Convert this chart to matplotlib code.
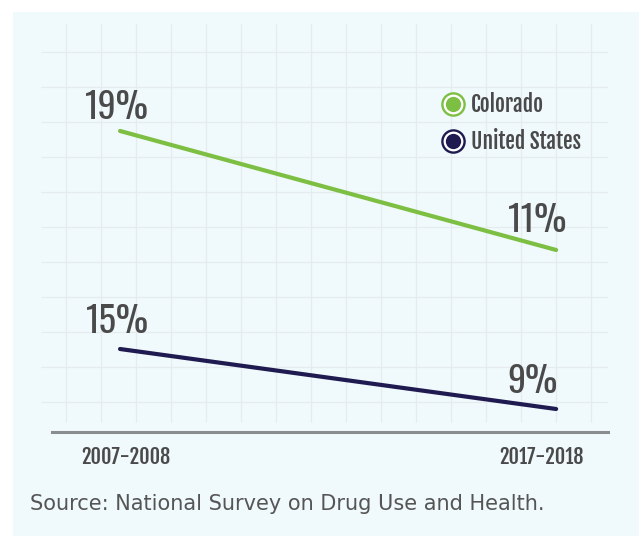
import numpy as np
import matplotlib
matplotlib.use("Agg")
import matplotlib.pyplot as plt
from matplotlib.lines import Line2D
from matplotlib.patches import Rectangle
from matplotlib.legend_handler import HandlerTuple

# data
periods = ["2007-2008", "2017-2018"]
colorado = [19, 11]
united_states = [15, 9]
labels_co = ["19%", "11%"]
labels_us = ["15%", "9%"]

GREEN = "#7dbf42"
NAVY = "#1f1a4f"
TXT = "#4a4a4a"
BG = "#f0f9fc"
GRID = "#e6ebee"

narrow = ["Oswald", "Roboto Condensed", "DejaVu Sans"]
narrow_bold = ["Fjalla One", "Roboto Condensed", "DejaVu Sans"]

W, H = 639, 536
fig = plt.figure(figsize=(W / 100, H / 100), dpi=100, facecolor="white")

# light blue panel
fig.add_artist(Rectangle((13 / W, 0), 626 / W, 524 / H, transform=fig.transFigure,
                         facecolor=BG, edgecolor="none", zorder=0))

# background grid (decoration only)
gax = fig.add_axes([41 / W, 104 / H, 567 / W, 408 / H])
gax.set_xlim(0, 567)
gax.set_ylim(408, 0)
gax.vlines(np.arange(24.7, 560, 35), 0, 398, color=GRID, lw=0.9)
gax.hlines(np.arange(28, 390, 35), 0, 567, color=GRID, lw=0.9)
gax.axis("off")

# Colorado on its own scale, United States on a twin scale (picture is not to one scale)
ax = fig.add_axes([52 / W, 104 / H, 556 / W, 408 / H])
ax.patch.set_visible(False)
x = np.arange(len(periods))
ax.set_xlim(-0.156, 1.119)
ax.set_ylim(-1.235, 26.19)
ax2 = ax.twinx()
ax2.set_ylim(6.7, 47.5)

ax.plot(x, colorado, color=GREEN, lw=3, solid_capstyle="round", zorder=3)
ax2.plot(x, united_states, color=NAVY, lw=3, solid_capstyle="round", zorder=3)

for a in (ax, ax2):
    for s in a.spines.values():
        s.set_visible(False)
    a.set_yticks([])
    a.set_xticks([])
ax.spines["bottom"].set_visible(True)
ax.spines["bottom"].set_color("#8a8d8f")
ax.spines["bottom"].set_linewidth(2.2)

# value labels
offs_co = [((-3, 12), "center"), ((11, 18), "right")]
offs_us = [((-3, 16), "center"), ((2, 16), "right")]
for a, vals, labs, offs in [(ax, colorado, labels_co, offs_co), (ax2, united_states, labels_us, offs_us)]:
    for xi, v, lab, (off, ha) in zip(x, vals, labs, offs):
        a.annotate(lab, (xi, v), xytext=off, textcoords="offset pixels", ha=ha, va="baseline",
                   fontsize=26, color=TXT, family=narrow)

# period labels under the axis
tick_offs = [6, -15]
for xi, p, dx in zip(x, periods, tick_offs):
    ax.annotate(p, (xi, 0), xycoords=("data", "axes fraction"), xytext=(dx, -14),
                textcoords="offset pixels", ha="center", va="top",
                fontsize=14.5, color=TXT, family=narrow_bold)

# legend: ring + dot
def ring(c):
    outer = Line2D([], [], ls="none", marker="o", markersize=16, mfc="white", mec=c, mew=1.7)
    inner = Line2D([], [], ls="none", marker="o", markersize=11, mfc=c, mec=c, mew=0)
    return (outer, inner)

leg = fig.legend([ring(GREEN), ring(NAVY)], ["Colorado", "United States"],
                 handler_map={tuple: HandlerTuple(ndivide=1, pad=0)},
                 loc="upper left", bbox_to_anchor=(441.5 / W, 1 - 92 / H),
                 frameon=False, borderpad=0, borderaxespad=0, handlelength=1.08,
                 handletextpad=0.3, labelspacing=0.55,
                 prop={"family": narrow_bold, "size": 15.5})
for t in leg.get_texts():
    t.set_color(TXT)

fig.text(30 / W, (H - 510) / H, "Source: National Survey on Drug Use and Health.",
         fontsize=15, color="#555555", va="baseline", family="DejaVu Sans")

fig.savefig("out.png", dpi=100, facecolor="white")
